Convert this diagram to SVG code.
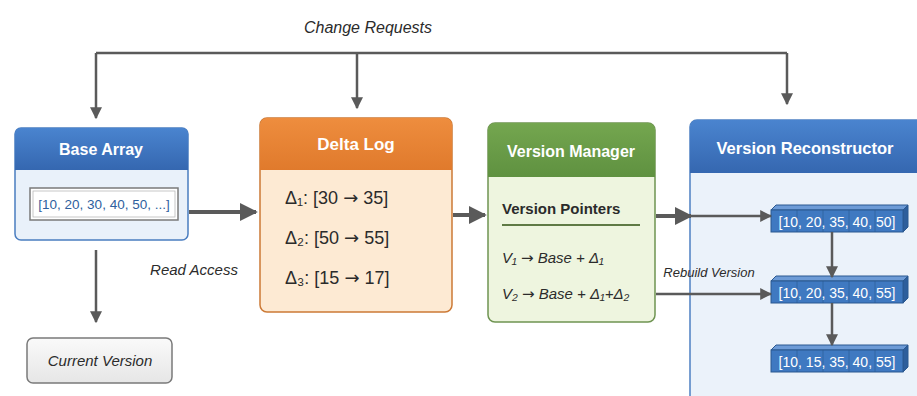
<svg xmlns="http://www.w3.org/2000/svg" width="917" height="396" viewBox="0 0 917 396">
<defs>
<style>
.t{font-family:"Liberation Sans",Arial,sans-serif}
.ti{font-family:"Liberation Sans",Arial,sans-serif;font-style:italic;fill:#2b2b2b}
.hd{font-family:"Liberation Sans",Arial,sans-serif;font-weight:bold;fill:#ffffff;text-anchor:middle}
.ln{fill:none;stroke:#5a5a5a}
.ar{font-family:"DejaVu Sans",sans-serif;font-style:normal}
.arr{font-family:"Liberation Sans",Arial,sans-serif;fill:#ffffff;font-size:14px;text-anchor:middle}
</style>
<marker id="ah" viewBox="0 0 10 10" refX="9" refY="5" markerWidth="12" markerHeight="12" markerUnits="userSpaceOnUse" orient="auto">
<path d="M0,0 L10,5 L0,10 z" fill="#5a5a5a"/>
</marker>
<marker id="ahb" viewBox="0 0 10 10" refX="9" refY="5" markerWidth="18" markerHeight="18" markerUnits="userSpaceOnUse" orient="auto">
<path d="M0,0 L10,5 L0,10 z" fill="#5a5a5a"/>
</marker>
<linearGradient id="gBlue" x1="0" y1="0" x2="0" y2="1"><stop offset="0" stop-color="#4a84cf"/><stop offset="1" stop-color="#3567b0"/></linearGradient>
<linearGradient id="gOr" x1="0" y1="0" x2="0" y2="1"><stop offset="0" stop-color="#ee8d3e"/><stop offset="1" stop-color="#e07a2c"/></linearGradient>
<linearGradient id="gGr" x1="0" y1="0" x2="0" y2="1"><stop offset="0" stop-color="#74a64f"/><stop offset="1" stop-color="#5f9140"/></linearGradient>
<linearGradient id="gGy" x1="0" y1="0" x2="0" y2="1"><stop offset="0" stop-color="#fafafa"/><stop offset="1" stop-color="#e6e6e6"/></linearGradient>
<g id="cube">
<path d="M0,5 L5,0 L137,0 L132,5 z" fill="#6d9bd6" stroke="#2a5890" stroke-width="1"/>
<path d="M132,5 L137,0 L137,22 L132,27 z" fill="#2d5e9c" stroke="#2a5890" stroke-width="1"/>
<rect x="0" y="5" width="132" height="22" fill="#3f79c1" stroke="#2a5890" stroke-width="1"/>
<path d="M26,5 V27 M52,5 V27 M78,5 V27 M104,5 V27" stroke="#2a5890" stroke-width="0.8" opacity="0.7"/>
</g>
</defs>
<rect width="917" height="396" fill="#ffffff"/>

<text class="ti" x="368" y="33" font-size="16" text-anchor="middle">Change Requests</text>

<g id="base-array">
<rect x="15" y="128" width="173" height="112" rx="6" fill="#e9f1fa" stroke="#4a7dc0" stroke-width="1.5"/>
<path d="M15,170 V134 a6,6 0 0 1 6,-6 H182 a6,6 0 0 1 6,6 V170 z" fill="url(#gBlue)"/>
<text class="hd" x="101" y="155" font-size="16">Base Array</text>
<rect x="30" y="188" width="148" height="32" fill="#ffffff" stroke="#7a7a7a" stroke-width="1.5"/>
<rect x="33" y="191" width="142" height="26" fill="none" stroke="#b9b9b9" stroke-width="0.8"/>
<text class="t" x="104" y="209" font-size="13.5" fill="#2f5f9e" text-anchor="middle">[10, 20, 30, 40, 50, ...]</text>
</g>

<g id="current-version">
<rect x="27" y="338" width="145" height="45" rx="6" fill="url(#gGy)" stroke="#7a7a7a" stroke-width="1.5"/>
<text class="ti" x="100" y="366" font-size="15" text-anchor="middle">Current Version</text>
</g>

<g id="delta-log">
<rect x="260" y="118" width="192" height="194" rx="7" fill="#fdead3" stroke="#cc7a36" stroke-width="1.5"/>
<path d="M260,170 V125 a7,7 0 0 1 7,-7 H445 a7,7 0 0 1 7,7 V170 z" fill="url(#gOr)"/>
<text class="hd" x="356" y="150" font-size="17" fill="#fff4e2">Delta Log</text>
<g class="t" font-size="18" fill="#2b2b2b">
<text x="285" y="204">Δ₁: [30 <tspan class="ar">→</tspan> 35]</text>
<text x="285" y="244">Δ₂: [50 <tspan class="ar">→</tspan> 55]</text>
<text x="285" y="284">Δ₃: [15 <tspan class="ar">→</tspan> 17]</text>
</g>
</g>

<g id="version-manager">
<rect x="488" y="123" width="167" height="199" rx="7" fill="#eef5df" stroke="#6f9452" stroke-width="1.5"/>
<path d="M488,177 V130 a7,7 0 0 1 7,-7 H648 a7,7 0 0 1 7,7 V177 z" fill="url(#gGr)"/>
<text class="hd" x="571" y="157" font-size="16">Version Manager</text>
<text class="t" x="502" y="214" font-size="15" font-weight="bold" fill="#2b2b2b">Version Pointers</text>
<path d="M502,225 H640" stroke="#5f7a45" stroke-width="2"/>
<text class="ti" x="502" y="263" font-size="15">V₁ <tspan class="ar">→</tspan> Base + Δ₁</text>
<text class="ti" x="502" y="299" font-size="15">V₂ <tspan class="ar">→</tspan> Base + Δ₁+Δ₂</text>
</g>

<g id="version-reconstructor">
<rect x="690" y="120" width="240" height="290" rx="7" fill="#ebf2fa" stroke="#4d80c2" stroke-width="1.5"/>
<path d="M690,173 V127 a7,7 0 0 1 7,-7 H930 V173 z" fill="url(#gBlue)"/>
<text class="hd" x="805" y="154" font-size="16.5">Version Reconstructor</text>
</g>

<g id="array-v1">
<use href="#cube" x="771" y="205"/>
<text class="arr" x="837" y="227">[10, 20, 35, 40, 50]</text>
</g>
<g id="array-v2">
<use href="#cube" x="771" y="276"/>
<text class="arr" x="837" y="298">[10, 20, 35, 40, 55]</text>
</g>
<g id="array-v3">
<use href="#cube" x="771" y="345"/>
<text class="arr" x="837" y="367">[10, 15, 35, 40, 55]</text>
</g>

<g id="connectors">
<path class="ln" stroke-width="2.5" d="M96,53 H787"/>
<path class="ln" stroke-width="2.5" d="M96,53 V118" marker-end="url(#ah)"/>
<path class="ln" stroke-width="2.5" d="M357,53 V108" marker-end="url(#ah)"/>
<path class="ln" stroke-width="2.5" d="M787,53 V104" marker-end="url(#ah)"/>
<path class="ln" stroke-width="4" d="M189,212 H256" marker-end="url(#ahb)"/>
<path class="ln" stroke-width="4" d="M453,215 H485" marker-end="url(#ahb)"/>
<path class="ln" stroke-width="4" d="M656,216 H691" marker-end="url(#ahb)"/>
<path class="ln" stroke-width="2.5" d="M690,216 H771" marker-end="url(#ah)"/>
<path class="ln" stroke-width="2.5" d="M656,294 H771" marker-end="url(#ah)"/>
<path class="ln" stroke-width="2.5" d="M96,250 V322" marker-end="url(#ah)"/>
<path class="ln" stroke-width="2.5" d="M832,232 V277" marker-end="url(#ah)"/>
<path class="ln" stroke-width="2.5" d="M832,303 V345" marker-end="url(#ah)"/>
<text class="ti" x="194" y="275" font-size="15" text-anchor="middle">Read Access</text>
<text class="ti" x="709" y="277" font-size="13" text-anchor="middle">Rebuild Version</text>
</g>
</svg>
